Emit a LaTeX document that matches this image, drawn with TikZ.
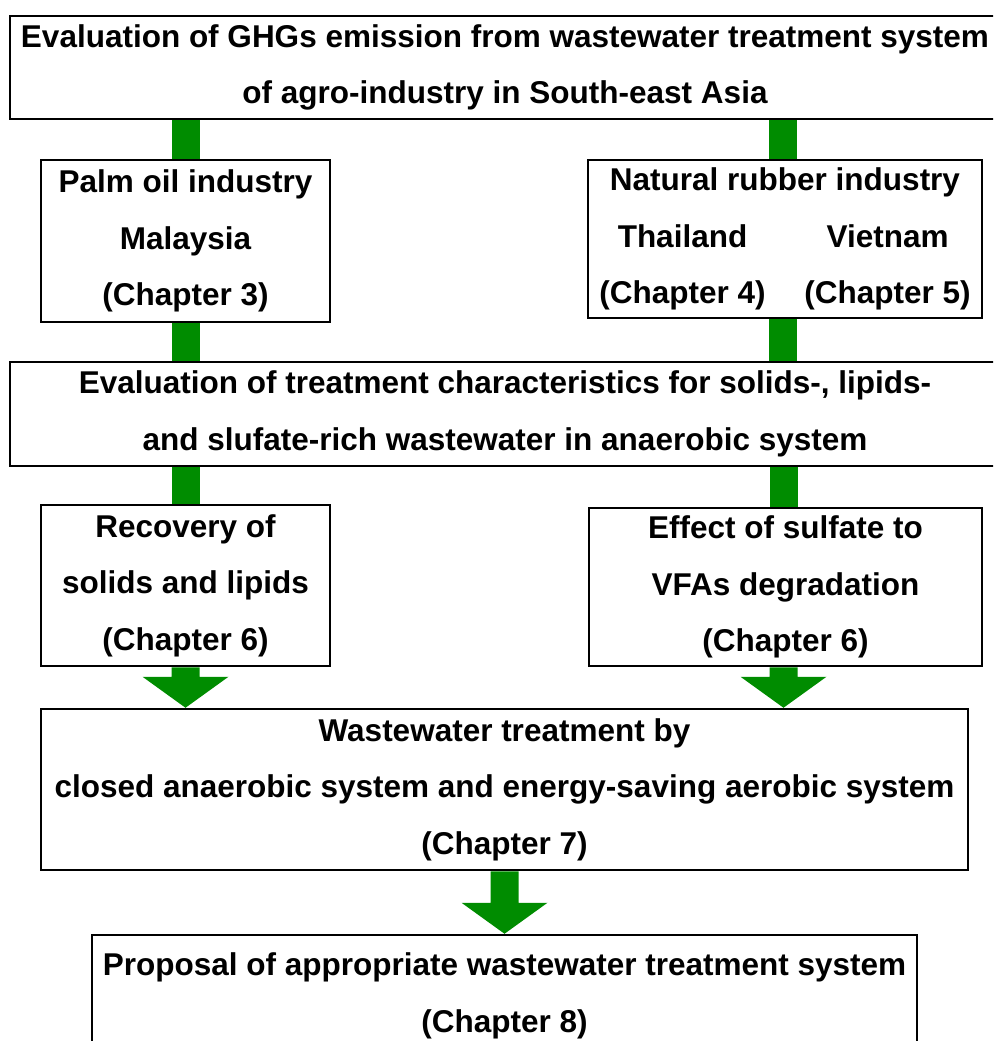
\documentclass[tikz,border=0pt]{standalone}
\usepackage{fontspec}
\setmainfont{Liberation Sans}
\usetikzlibrary{calc}
\definecolor{gr}{RGB}{0,140,0}
\newcommand{\twocol}[2]{\hbox to 390pt{\hss\makebox[0pt]{#1}\hskip205pt\makebox[0pt]{#2}\hss}}
\begin{document}
\begin{tikzpicture}[x=1pt,y=-1pt,
  box/.style={draw=black,line width=2.5pt,fill=white,align=center,inner sep=0pt,
    font=\bfseries\fontsize{31.5}{56.5}\selectfont},
  bar/.style={fill=gr},
]
\useasboundingbox (0,0) rectangle (993,1041);
\clip (0,0) rectangle (993,1041);
\fill[white] (0,0) rectangle (993,1041);

\node[box,minimum width=990pt,minimum height=103pt] (top) at (505,67.5)
  {Evaluation of GHGs emission from wastewater treatment system\\of agro-industry in South-east Asia};
\node[box,minimum width=289pt,minimum height=162pt] (palm) at (185.5,241)
  {Palm oil industry\\Malaysia\\(Chapter 3)};
\node[box,minimum width=394pt,minimum height=158pt] (rubber) at (785,239)
  {Natural rubber industry\\\twocol{Thailand}{Vietnam}\\\twocol{(Chapter 4)}{(Chapter 5)}};
\node[box,minimum width=990pt,minimum height=104pt] (eval) at (505,414)
  {Evaluation of treatment characteristics for solids-, lipids-\\and slufate-rich wastewater in anaerobic system};
\node[box,minimum width=289pt,minimum height=161pt] (rec) at (185.5,585.5)
  {Recovery of\\solids and lipids\\(Chapter 6)};
\node[box,minimum width=393pt,minimum height=158pt] (eff) at (785.5,587)
  {Effect of sulfate to\\VFAs degradation\\(Chapter 6)};
\node[box,minimum width=927pt,minimum height=161pt] (waste) at (504.5,789.5)
  {Wastewater treatment by\\closed anaerobic system and energy-saving aerobic system\\(Chapter 7)};
\node[box,minimum width=825pt,minimum height=122pt] (prop) at (504.5,996)
  {Proposal of appropriate wastewater treatment system\\(Chapter 8)};

% bars
\fill[bar] ($(palm.north)+(-14pt,0)$) rectangle ($(palm.north |- top.south)+(14pt,0)$);
\fill[bar] ($(rubber.north)+(-16pt,0)$) rectangle ($(rubber.north |- top.south)+(12pt,0)$);
\fill[bar] ($(palm.south)+(-14pt,0)$) rectangle ($(palm.south |- eval.north)+(14pt,0)$);
\fill[bar] ($(rubber.south)+(-16pt,0)$) rectangle ($(rubber.south |- eval.north)+(12pt,0)$);
\fill[bar] ($(rec.north)+(-14pt,0)$) rectangle ($(rec.north |- eval.south)+(14pt,0)$);
\fill[bar] ($(eff.north)+(-16pt,0)$) rectangle ($(eff.north |- eval.south)+(12pt,0)$);

% arrows
\fill[bar] let \p1=(rec.south), \p2=(rec.south |- waste.north) in
  (\x1-14pt,\y1) -- (\x1-14pt,\y2+31pt) -- (\x1-43pt,\y2+31pt) -- (\x1,\y2)
  -- (\x1+43pt,\y2+31pt) -- (\x1+14pt,\y2+31pt) -- (\x1+14pt,\y1) -- cycle;
\fill[bar] let \p1=($(eff.south)+(-2pt,0)$), \p2=($(eff.south |- waste.north)+(-2pt,0)$) in
  (\x1-14pt,\y1) -- (\x1-14pt,\y2+31pt) -- (\x1-43pt,\y2+31pt) -- (\x1,\y2)
  -- (\x1+43pt,\y2+31pt) -- (\x1+14pt,\y2+31pt) -- (\x1+14pt,\y1) -- cycle;
\fill[bar] let \p1=(waste.south), \p2=(waste.south |- prop.north) in
  (\x1-14pt,\y1) -- (\x1-14pt,\y2+31pt) -- (\x1-43pt,\y2+31pt) -- (\x1,\y2)
  -- (\x1+43pt,\y2+31pt) -- (\x1+14pt,\y2+31pt) -- (\x1+14pt,\y1) -- cycle;
\end{tikzpicture}
\end{document}
